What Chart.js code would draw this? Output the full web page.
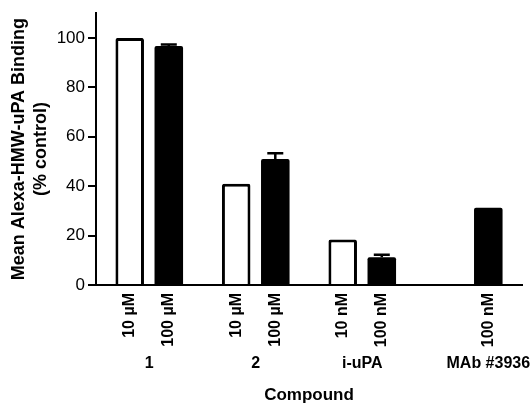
<!DOCTYPE html>
<html>
<head>
<meta charset="utf-8">
<script src="https://cdn.jsdelivr.net/npm/chart.js@4.4.1/dist/chart.umd.min.js"></script>
<style>
  html, body { margin: 0; padding: 0; background: #fff; }
  #wrap { width: 530px; height: 404px; }
</style>
</head>
<body>
<div id="wrap"><canvas id="chart"></canvas></div>
<script>
// data
const compounds = ["1", "2", "i-uPA", "MAb #3936"];
const lowDoseLabels = ["10 \u00b5M", "10 \u00b5M", "10 nM", ""];
const highDoseLabels = ["100 \u00b5M", "100 \u00b5M", "100 nM", "100 nM"];
const lowDoseValues = [100, 41, 18.4, null];
const highDoseValues = [96.7, 51, 11.2, 31.3];
const lowDoseErrors = [0, 0, 0, null];
const highDoseErrors = [0.6, 2.3, 1.0, 0];
const yTitle = ["Mean Alexa-HMW-uPA Binding", "(% control)"];
const xTitle = "Compound";

const FONT = '"Liberation Sans", Arial, sans-serif';

// error bars, per-bar dose labels and compound names
const annotate = {
    id: "annotate",
    afterDatasetsDraw(chart) {
        const ctx = chart.ctx;
        const yScale = chart.scales.y;
        const base = chart.chartArea.bottom;
        const errs = [lowDoseErrors, highDoseErrors];
        const doses = [lowDoseLabels, highDoseLabels];

        ctx.save();
        ctx.strokeStyle = "#000";
        ctx.fillStyle = "#000";
        ctx.lineWidth = 2.5;

        errs.forEach((list, d) => {
            const meta = chart.getDatasetMeta(d);
            meta.data.forEach((bar, i) => {
                const v = chart.data.datasets[d].data[i];
                const e = list[i];
                if (v == null || !e) return;
                const top = yScale.getPixelForValue(v + e);
                ctx.beginPath();
                ctx.moveTo(bar.x, bar.y);
                ctx.lineTo(bar.x, top);
                ctx.moveTo(bar.x - 8, top);
                ctx.lineTo(bar.x + 8, top);
                ctx.stroke();
            });
        });

        ctx.font = "bold 16px " + FONT;
        doses.forEach((list, d) => {
            const meta = chart.getDatasetMeta(d);
            meta.data.forEach((bar, i) => {
                if (!list[i]) return;
                ctx.save();
                ctx.translate(bar.x, base + 8);
                ctx.rotate(-Math.PI / 2);
                ctx.textAlign = "right";
                ctx.textBaseline = "middle";
                ctx.fillText(list[i], 0, 0);
                ctx.restore();
            });
        });

        ctx.textAlign = "center";
        ctx.textBaseline = "middle";
        compounds.forEach((name, i) => {
            const xs = [];
            [lowDoseValues, highDoseValues].forEach((vals, d) => {
                if (vals[i] != null) xs.push(chart.getDatasetMeta(d).data[i].x);
            });
            const x = xs.reduce((a, b) => a + b, 0) / xs.length;
            ctx.fillText(name, x, 364);
        });
        ctx.restore();
    }
};

new Chart(document.getElementById("chart"), {
    type: "bar",
    data: {
        labels: compounds,
        datasets: [
            {
                data: lowDoseValues,
                backgroundColor: "#fff",
                borderColor: "#000",
                borderWidth: 3,
                borderRadius: 2,
                categoryPercentage: 0.734,
                barPercentage: 0.73
            },
            {
                data: highDoseValues,
                backgroundColor: "#000",
                borderColor: "#000",
                borderWidth: 0,
                borderRadius: 2,
                categoryPercentage: 0.734,
                barPercentage: 0.73
            }
        ]
    },
    options: {
        responsive: true,
        maintainAspectRatio: false,
        animation: false,
        devicePixelRatio: 1,
        layout: { padding: { top: 10, right: 8, left: 0, bottom: 0 } },
        plugins: {
            legend: { display: false },
            tooltip: { enabled: false }
        },
        scales: {
            x: {
                grid: { display: false },
                border: { color: "#000", width: 2 },
                ticks: { display: false },
                title: {
                    display: true,
                    text: xTitle,
                    color: "#000",
                    font: { family: FONT, size: 17, weight: "bold", lineHeight: 1 },
                    padding: { top: 0, bottom: 0 }
                },
                afterFit(scale) { scale.height = 119; }
            },
            y: {
                min: 0,
                max: 110,
                ticks: {
                    stepSize: 20,
                    includeBounds: false,
                    color: "#000",
                    padding: 3,
                    font: { family: FONT, size: 17 }
                },
                grid: {
                    drawOnChartArea: false,
                    drawTicks: true,
                    tickLength: 8,
                    color: "#000",
                    lineWidth: 2
                },
                border: { color: "#000", width: 2 },
                title: {
                    display: true,
                    text: yTitle,
                    color: "#000",
                    font: { family: FONT, size: 18, weight: "bold", lineHeight: 1.17 },
                    padding: { top: 9, bottom: 0 }
                },
                afterFit(scale) { scale.width = 96; }
            }
        }
    },
    plugins: [annotate]
});
</script>
</body>
</html>
